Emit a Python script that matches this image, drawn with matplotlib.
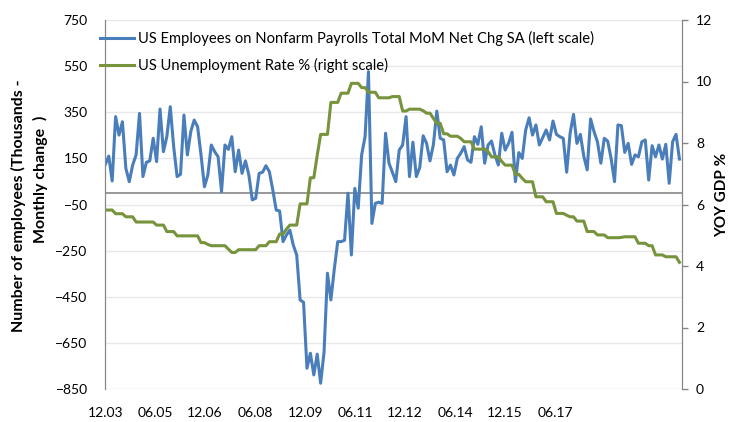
import matplotlib
matplotlib.use('Agg')
from matplotlib import pyplot as plt
import numpy as np

plt.rcParams['font.family'] = ['Lato', 'DejaVu Sans']

# monthly change in nonfarm payrolls (thousands), Dec 2003 .. Dec 2017
payrolls = [124, 160, 52, 331, 251, 309, 107, 49, 121, 165,
            345, 71, 133, 139, 237, 136, 364, 179, 245, 374,
            200, 71, 81, 338, 165, 266, 316, 287, 165, 27,
            78, 208, 179, 157, 6, 208, 189, 244, 92, 186,
            85, 139, 78, -30, -23, 85, 90, 118, 92, 13,
            -74, -78, -211, -182, -161, -226, -269, -464, -474, -760,
            -695, -789, -699, -825, -690, -348, -464, -330, -211, -211,
            -205, -1, -269, 20, -66, 165, 244, 526, -132, -45,
            -40, -45, 259, 129, 90, 49, 186, 208, 331, 71,
            220, 71, 110, 248, 215, 139, 210, 355, 237, 230,
            92, 121, 78, 150, 172, 201, 143, 133, 244, 211,
            287, 129, 208, 225, 165, 121, 259, 186, 215, 263,
            49, 175, 150, 273, 326, 251, 295, 208, 240, 273,
            230, 312, 254, 244, 237, 90, 259, 341, 215, 254,
            160, 100, 321, 266, 222, 129, 237, 225, 150, 49,
            295, 292, 176, 215, 124, 165, 157, 222, 230, 56,
            205, 157, 208, 147, 211, 42, 222, 254, 147]

# unemployment rate %, same months
unemployment = [5.82, 5.82, 5.82, 5.70, 5.70, 5.70, 5.60, 5.60, 5.60, 5.43,
                5.43, 5.43, 5.43, 5.43, 5.43, 5.33, 5.33, 5.33, 5.12, 5.12,
                5.12, 4.98, 4.98, 4.98, 4.98, 4.98, 4.98, 4.98, 4.76, 4.76,
                4.70, 4.66, 4.66, 4.66, 4.66, 4.66, 4.55, 4.44, 4.44, 4.53,
                4.53, 4.53, 4.53, 4.53, 4.53, 4.66, 4.66, 4.66, 4.79, 4.79,
                4.79, 5.04, 5.04, 5.20, 5.33, 5.33, 5.33, 6.02, 6.02, 6.02,
                6.87, 6.87, 7.60, 8.28, 8.28, 8.28, 9.32, 9.32, 9.32, 9.62,
                9.62, 9.62, 9.94, 9.94, 9.94, 9.80, 9.80, 9.65, 9.65, 9.65,
                9.47, 9.47, 9.47, 9.47, 9.51, 9.51, 9.51, 9.04, 9.04, 9.10,
                9.10, 9.10, 9.10, 9.05, 8.97, 8.97, 8.80, 8.64, 8.64, 8.30,
                8.30, 8.22, 8.22, 8.22, 8.15, 8.04, 8.04, 8.04, 7.80, 7.80,
                7.80, 7.80, 7.72, 7.55, 7.55, 7.55, 7.40, 7.28, 7.28, 7.28,
                6.98, 6.98, 6.85, 6.74, 6.74, 6.74, 6.25, 6.25, 6.25, 6.09,
                6.09, 6.09, 5.71, 5.71, 5.71, 5.65, 5.60, 5.60, 5.46, 5.46,
                5.46, 5.12, 5.12, 5.12, 5.01, 5.01, 5.01, 4.92, 4.92, 4.92,
                4.92, 4.93, 4.95, 4.95, 4.95, 4.95, 4.74, 4.74, 4.74, 4.66,
                4.66, 4.36, 4.36, 4.36, 4.30, 4.30, 4.30, 4.30, 4.12]

tick_labels = ['12.03', '06.05', '12.06', '06.08', '12.09',
               '06.11', '12.12', '06.14', '12.15', '06.17']
tick_pos = [0, 14.6, 29.2, 43.9, 58.5, 73.1, 87.7, 102.4, 117.0, 131.6]

months = np.arange(len(payrolls))

blue = '#4a7ebb'
green = '#77933c'
axis_grey = '#868686'

fig = plt.figure(figsize=(7.29, 4.22), dpi=100)
ax1 = fig.add_axes([105 / 729, 1 - 389 / 422, 576.5 / 729, 369 / 422])
ax2 = ax1.twinx()

ax1.set_ylim(-850, 750)
ax1.set_yticks(np.arange(-850, 751, 200))
ax1.set_xlim(-0.1, 168.6)
ax1.grid(axis='y', color='#e8e8e8', linewidth=1)
ax1.set_axisbelow(True)
ax1.axhline(0, color=axis_grey, linewidth=1.2, zorder=1.5)
l1, = ax1.plot(months, payrolls, color=blue, linewidth=2.2, zorder=3,
               solid_joinstyle='round')

ax2.set_ylim(0, 12)
ax2.set_yticks(range(0, 13, 2))
l2, = ax2.plot(months, unemployment, color=green, linewidth=2.2,
               solid_joinstyle='round')

ax1.set_xticks(tick_pos)
ax1.set_xticklabels(tick_labels)
ax1.tick_params(axis='x', length=0, pad=13, labelsize=10)
ax1.tick_params(axis='y', length=0, pad=12.5, labelsize=10)
ax2.tick_params(axis='y', length=4, width=1, color=axis_grey, pad=6.5, labelsize=10)

for ax in (ax1, ax2):
    ax.spines['top'].set_visible(False)
    ax.spines['bottom'].set_visible(False)
    ax.spines['left'].set_color(axis_grey)
    ax.spines['right'].set_color(axis_grey)

fig.text(18 / 729, 1 - 206 / 422, 'Number of employees (Thousands -',
         rotation=90, ha='center', va='center', fontsize=11.5, fontweight='bold')
fig.text(40 / 729, 1 - 179 / 422, 'Monthly change  )',
         rotation=90, ha='center', va='center', fontsize=11.5, fontweight='bold')
fig.text(722 / 729, 1 - 195 / 422, 'YOY GDP %',
         rotation=90, ha='center', va='center', fontsize=11, fontweight='bold')

ax2.legend([l1, l2],
           ['US Employees on Nonfarm Payrolls Total MoM Net Chg SA (left scale)',
            'US Unemployment Rate % (right scale)'],
           loc='upper left', bbox_to_anchor=(100 / 729, 1 - 31 / 422),
           bbox_transform=fig.transFigure, frameon=False, fontsize=10.6,
           borderpad=0, borderaxespad=0, handlelength=2.3, handletextpad=0.3,
           labelspacing=0.8)

fig.savefig('out.png', dpi=100)
